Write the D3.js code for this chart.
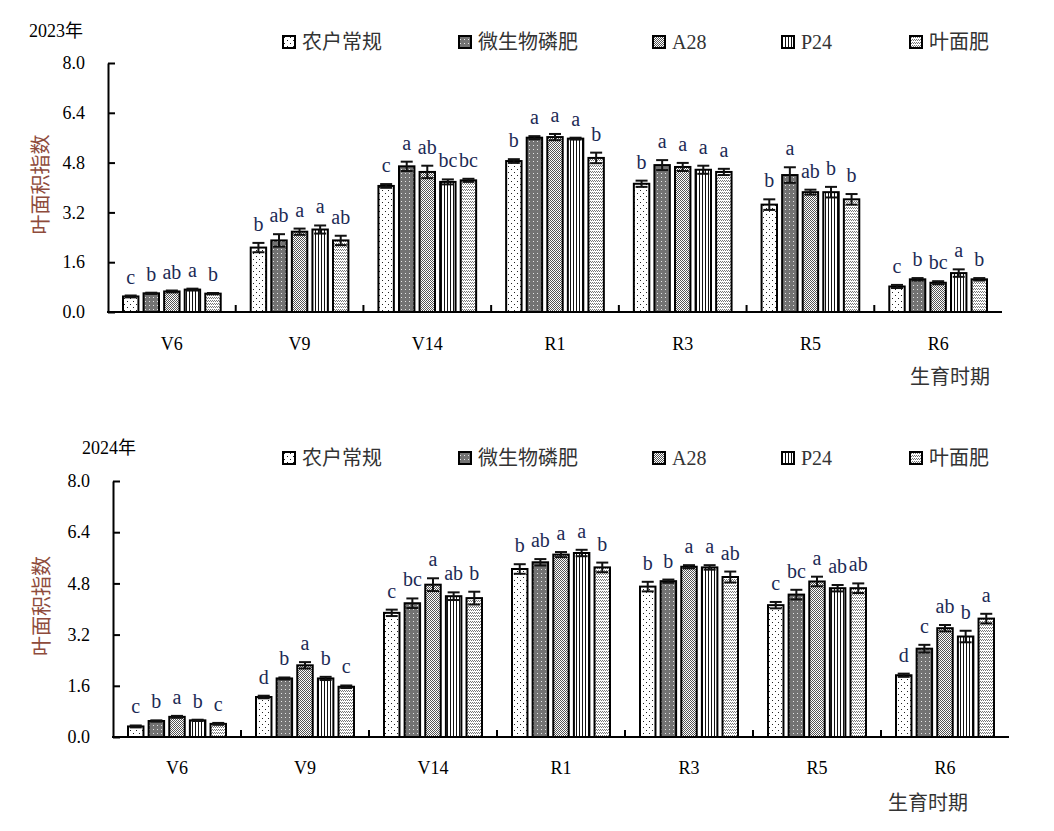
<!DOCTYPE html>
<html>
<head>
<meta charset="utf-8">
<script src="https://cdn.jsdelivr.net/npm/d3@7"></script>
<style>
body { margin: 0; background: #fff; }
svg text { font-family: "Liberation Serif", "Noto Sans CJK SC", serif; }
</style>
</head>
<body>
<svg id="chart" width="1054" height="831"></svg>
<script>
// growth stages and treatments
const stages = ["V6", "V9", "V14", "R1", "R3", "R5", "R6"];
const treatments = ["农户常规", "微生物磷肥", "A28", "P24", "叶面肥"];
const yTicks = [0, 1.6, 3.2, 4.8, 6.4, 8.0];

// 2023 LAI, one row per stage, columns follow treatments
const lai2023 = [
    [0.50, 0.60, 0.66, 0.72, 0.59],
    [2.07, 2.30, 2.58, 2.65, 2.30],
    [4.05, 4.68, 4.50, 4.18, 4.23],
    [4.85, 5.60, 5.62, 5.57, 4.95],
    [4.12, 4.72, 4.66, 4.57, 4.50],
    [3.45, 4.40, 3.85, 3.85, 3.62],
    [0.82, 1.05, 0.94, 1.25, 1.05]
];
const err2023 = [
    [0.03, 0.02, 0.03, 0.03, 0.02],
    [0.15, 0.20, 0.10, 0.13, 0.15],
    [0.06, 0.15, 0.20, 0.08, 0.05],
    [0.06, 0.05, 0.10, 0.03, 0.17],
    [0.10, 0.16, 0.13, 0.13, 0.10],
    [0.17, 0.25, 0.08, 0.17, 0.17],
    [0.05, 0.04, 0.05, 0.12, 0.04]
];
const sig2023 = [
    ["c", "b", "ab", "a", "b"],
    ["b", "ab", "a", "a", "ab"],
    ["c", "a", "ab", "bc", "bc"],
    ["b", "a", "a", "a", "b"],
    ["b", "a", "a", "a", "a"],
    ["b", "a", "ab", "b", "b"],
    ["c", "b", "bc", "a", "b"]
];

// 2024 LAI
const lai2024 = [
    [0.33, 0.50, 0.63, 0.52, 0.41],
    [1.25, 1.83, 2.24, 1.83, 1.57],
    [3.88, 4.18, 4.76, 4.40, 4.34],
    [5.25, 5.46, 5.70, 5.75, 5.30],
    [4.70, 4.87, 5.32, 5.30, 5.00],
    [4.12, 4.45, 4.86, 4.65, 4.65],
    [1.93, 2.76, 3.40, 3.14, 3.70]
];
const err2024 = [
    [0.03, 0.02, 0.03, 0.02, 0.03],
    [0.04, 0.03, 0.10, 0.05, 0.04],
    [0.10, 0.15, 0.20, 0.12, 0.20],
    [0.15, 0.10, 0.08, 0.10, 0.15],
    [0.15, 0.05, 0.05, 0.07, 0.17],
    [0.10, 0.15, 0.15, 0.10, 0.15],
    [0.05, 0.12, 0.10, 0.18, 0.15]
];
const sig2024 = [
    ["c", "b", "a", "b", "c"],
    ["d", "b", "a", "b", "c"],
    ["c", "bc", "a", "ab", "b"],
    ["b", "ab", "a", "a", "b"],
    ["b", "b", "a", "a", "ab"],
    ["c", "bc", "a", "ab", "ab"],
    ["d", "c", "ab", "b", "a"]
];

const svg = d3.select("#chart");
const defs = svg.append("defs");

// fill patterns for the five treatments
function pattern(id, w, h, bg, pixels, color) {
    const p = defs.append("pattern").attr("id", id)
        .attr("patternUnits", "userSpaceOnUse").attr("width", w).attr("height", h);
    p.append("rect").attr("width", w).attr("height", h).attr("fill", bg);
    pixels.forEach(([px, py, pw, ph]) => {
        p.append("rect").attr("x", px).attr("y", py)
            .attr("width", pw || 1).attr("height", ph || 1)
            .attr("fill", color).attr("shape-rendering", "crispEdges");
    });
}
pattern("pat0", 6, 6, "#fff", [[1, 1], [4, 4]], "#222");
pattern("pat1", 4, 4, "#737373", [[1, 1]], "#e6e6e6");
pattern("pat2", 2, 2, "#fff", [[0, 0], [1, 1]], "#555");
pattern("pat3", 3, 3, "#fff", [[0, 0, 1, 3]], "#111");
pattern("pat4", 4, 3, "#fff", [[0, 0], [1, 1], [2, 0], [3, 1]], "#777");
const fills = treatments.map((t, i) => `url(#pat${i})`);

const panels = [
    { year: "2023年", lai: lai2023, err: err2023, sig: sig2023,
      left: 108, right: 1002, top: 63, bottom: 312,
      yearX: 29, yearY: 37, legendY: 42, labelY: 350, titleX: 910, titleY: 384, yTitleX: 48 },
    { year: "2024年", lai: lai2024, err: err2024, sig: sig2024,
      left: 113, right: 1009, top: 481, bottom: 737,
      yearX: 82, yearY: 454, legendY: 458, labelY: 774, titleX: 888, titleY: 810, yTitleX: 49 }
];
const legendX = [283, 459, 653, 782, 910];

panels.forEach(cfg => {
    const g = svg.append("g");

    const x = d3.scaleBand().domain(stages).range([cfg.left, cfg.right]);
    const xSub = d3.scaleBand().domain(treatments)
        .range([15, x.bandwidth() - 15]).paddingInner(0.25);
    const y = d3.scaleLinear().domain([0, 8]).range([cfg.bottom, cfg.top]);

    // y axis, ticks pointing inward
    const yAxis = g.append("g")
        .attr("transform", `translate(${cfg.left},0)`)
        .call(d3.axisLeft(y).tickValues(yTicks).tickFormat(d3.format(".1f"))
            .tickSizeInner(-7).tickSizeOuter(0).tickPadding(23));
    yAxis.attr("font-family", null);
    yAxis.select(".domain").attr("stroke", "#000").attr("stroke-width", 2);
    yAxis.selectAll(".tick line").attr("stroke", "#000").attr("stroke-width", 2);
    yAxis.selectAll(".tick text").attr("font-size", 18).attr("fill", "#000");

    // x axis line + group separators
    g.append("line")
        .attr("x1", cfg.left - 1).attr("x2", cfg.right)
        .attr("y1", cfg.bottom).attr("y2", cfg.bottom)
        .attr("stroke", "#000").attr("stroke-width", 2);
    g.selectAll(".sep").data(stages.slice(1)).join("line")
        .attr("x1", d => x(d)).attr("x2", d => x(d))
        .attr("y1", cfg.bottom).attr("y2", cfg.bottom - 7)
        .attr("stroke", "#000").attr("stroke-width", 2);
    g.selectAll(".stage").data(stages).join("text")
        .attr("x", d => x(d) + x.bandwidth() / 2).attr("y", cfg.labelY)
        .attr("text-anchor", "middle").attr("font-size", 18).attr("fill", "#000")
        .text(d => d);

    // bars
    const rows = [];
    stages.forEach((s, i) => treatments.forEach((t, j) => {
        rows.push({ s, t, j, v: cfg.lai[i][j], e: cfg.err[i][j], sig: cfg.sig[i][j] });
    }));
    const bx = d => x(d.s) + xSub(d.t);
    const bw = xSub.bandwidth();

    g.selectAll(".bar").data(rows).join("rect")
        .attr("x", bx).attr("y", d => y(d.v))
        .attr("width", bw).attr("height", d => y(0) - y(d.v))
        .attr("fill", d => fills[d.j]).attr("stroke", "#000").attr("stroke-width", 2);

    // error bars
    const eb = g.selectAll(".err").data(rows).join("g").attr("stroke", "#111").attr("stroke-width", 2);
    eb.append("line")
        .attr("x1", d => bx(d) + bw / 2).attr("x2", d => bx(d) + bw / 2)
        .attr("y1", d => y(d.v - d.e)).attr("y2", d => y(d.v + d.e));
    eb.append("line")
        .attr("x1", d => bx(d) + bw / 2 - 6).attr("x2", d => bx(d) + bw / 2 + 6)
        .attr("y1", d => y(d.v + d.e)).attr("y2", d => y(d.v + d.e));
    eb.append("line")
        .attr("x1", d => bx(d) + bw / 2 - 6).attr("x2", d => bx(d) + bw / 2 + 6)
        .attr("y1", d => y(d.v - d.e)).attr("y2", d => y(d.v - d.e));

    // significance letters
    g.selectAll(".sig").data(rows).join("text")
        .attr("x", d => bx(d) + bw / 2).attr("y", d => y(d.v + d.e) - 12)
        .attr("text-anchor", "middle").attr("font-size", 20).attr("fill", "#1c2a55")
        .text(d => d.sig);

    // legend
    const lg = g.selectAll(".leg").data(treatments).join("g")
        .attr("transform", (d, i) => `translate(${legendX[i]},${cfg.legendY})`);
    lg.append("rect").attr("x", 0).attr("y", -6).attr("width", 12).attr("height", 12)
        .attr("fill", (d, i) => fills[i]).attr("stroke", "#000").attr("stroke-width", 2);
    lg.append("text").attr("x", 19).attr("y", 7).attr("font-size", 20).attr("fill", "#333")
        .text(d => d);

    // titles
    g.append("text").attr("x", cfg.yearX).attr("y", cfg.yearY)
        .attr("font-size", 18).attr("fill", "#000").text(cfg.year);
    g.append("text")
        .attr("transform", `translate(${cfg.yTitleX},${(cfg.top + cfg.bottom) / 2 - 3}) rotate(-90)`)
        .attr("text-anchor", "middle").attr("font-size", 20).attr("fill", "#8e4b3b")
        .text("叶面积指数");
    g.append("text").attr("x", cfg.titleX).attr("y", cfg.titleY)
        .attr("font-size", 20).attr("fill", "#333").text("生育时期");
});
</script>
</body>
</html>
